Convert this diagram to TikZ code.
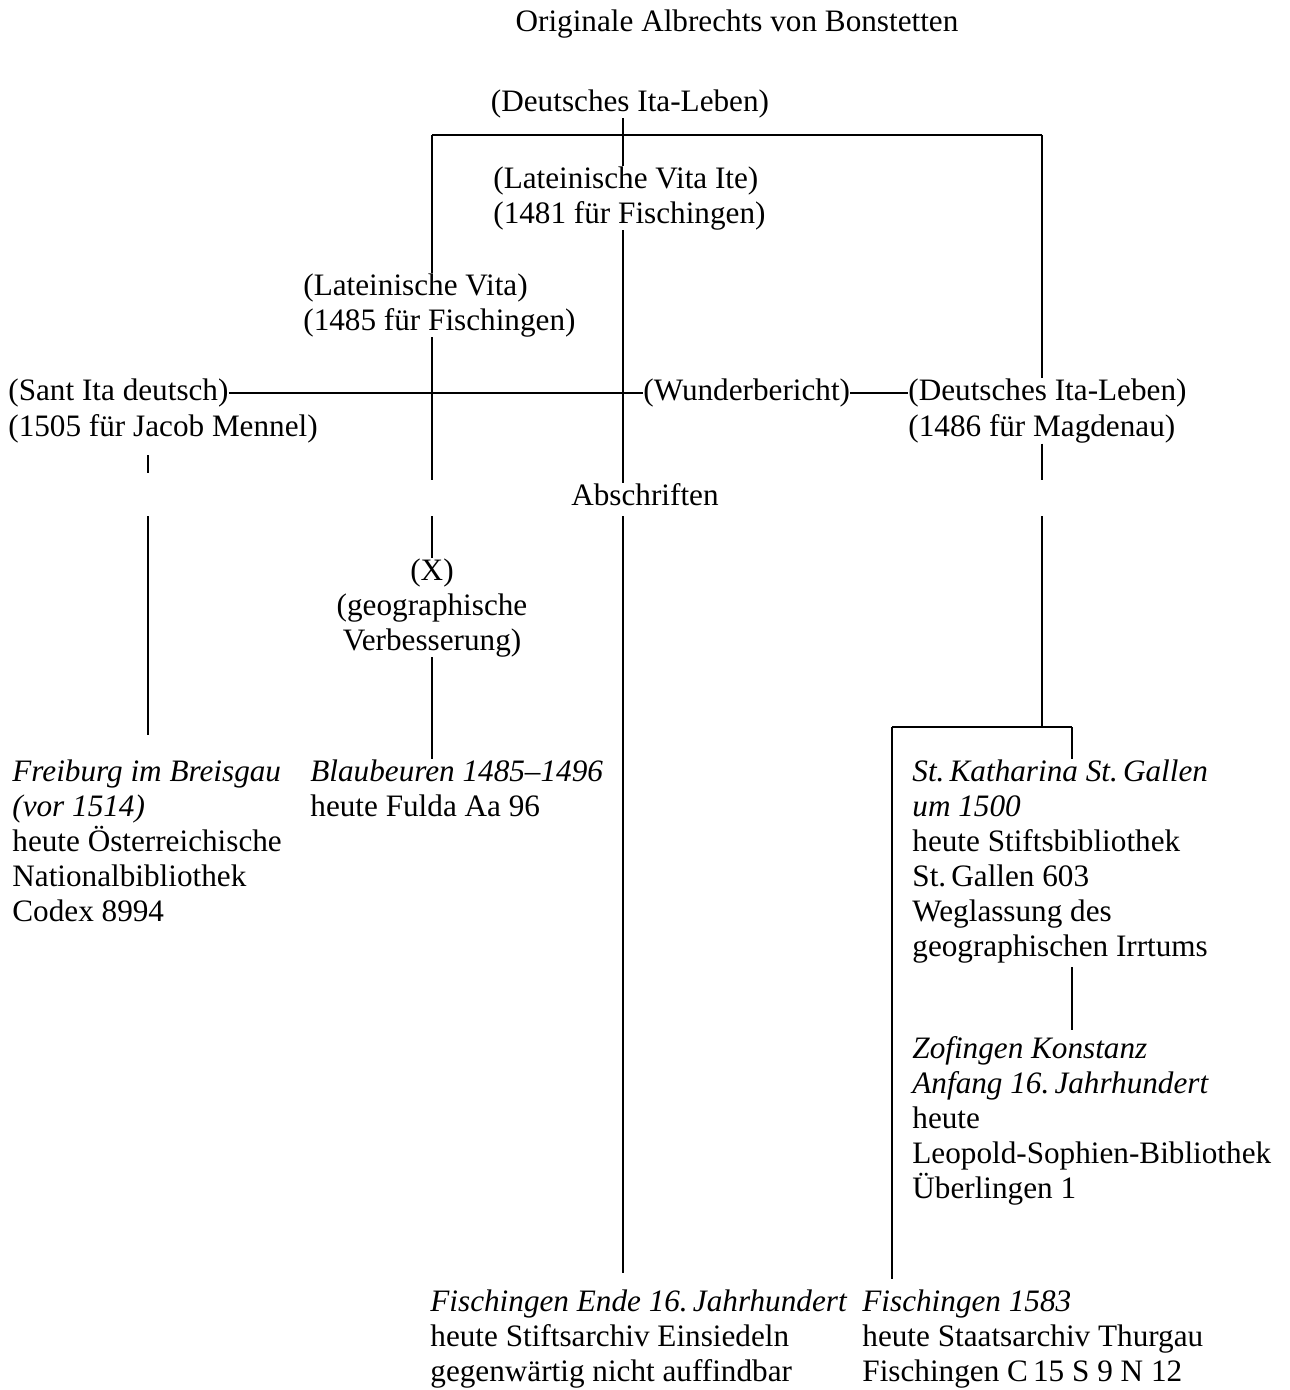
\documentclass[tikz,border=0pt]{standalone}
\usepackage{fontspec}
\setmainfont{Liberation Serif}
\usetikzlibrary{positioning}
\usetikzlibrary{calc}

\begin{document}
\begin{tikzpicture}[x=0.5pt, y=-0.5pt]
% tikz settings
\tikzstyle{txt} = [inner sep=0pt, align=left, anchor=north west, font=\fontsize{15.6}{17.5}\selectfont]
\tikzstyle{ctxt} = [inner sep=0pt, align=center, anchor=north, font=\fontsize{15.6}{17.5}\selectfont]
\tikzstyle{line} = [draw, line width=1pt]

\useasboundingbox (0,0) rectangle (1289,1390);

% the tikz picture
\node [ctxt] (title) at (737,9) {Originale Albrechts von Bonstetten};
\node [ctxt] (dtop) at (630,89) {(Deutsches Ita-Leben)};
\node [txt] (lvi) at (493,166) {(Lateinische Vita Ite)\\(1481 für Fischingen)};
\node [txt] (lv) at (303,273) {(Lateinische Vita)\\(1485 für Fischingen)};
\node [txt] (sant) at (8,378) {(Sant Ita deutsch)};
\node [txt] (santyr) at (8,414) {(1505 für Jacob Mennel)};
\node [txt] (wunder) at (643,378) {(Wunderbericht)};
\node [txt] (dml) at (908,378) {(Deutsches Ita-Leben)};
\node [txt] (dmlyr) at (908,414) {(1486 für Magdenau)};
\node [ctxt] (absch) at (645,483) {Abschriften};
\node [ctxt] (xnode) at (432,558) {(X)\\(geographische\\Verbesserung)};

\node [txt] (freiburg) at (12,759) {\textit{Freiburg im Breisgau}\\\textit{(vor 1514)}\\heute Österreichische\\Nationalbibliothek\\Codex 8994};
\node [txt] (blau) at (310,759) {\textit{Blaubeuren 1485–1496}\\heute Fulda Aa 96};
\node [txt] (kath) at (912,759) {\textit{St.\,Katharina St.\,Gallen}\\\textit{um 1500}\\heute Stiftsbibliothek\\St.\,Gallen 603\\Weglassung des\\geographischen Irrtums};
\node [txt] (zof) at (912,1036) {\textit{Zofingen Konstanz}\\\textit{Anfang 16.\,Jahrhundert}\\heute\\Leopold-Sophien-Bibliothek\\Überlingen 1};
\node [txt] (fe) at (430,1289) {\textit{Fischingen Ende 16.\,Jahrhundert}\\heute Stiftsarchiv Einsiedeln\\gegenwärtig nicht auffindbar};
\node [txt] (fb) at (862,1289) {\textit{Fischingen 1583}\\heute Staatsarchiv Thurgau\\Fischingen C\,15 S 9 N 12};

% junctions
\coordinate (barL) at (432,135);
\coordinate (barM) at (623,135);
\coordinate (barR) at (1042,135);
\coordinate (gapT) at (0,480);
\coordinate (gapB) at (0,516);
\coordinate (colA) at (148,0);
\coordinate (tickT) at (148,455);
\coordinate (tickB) at (148,473);
\coordinate (fbEnd) at (148,735);
\coordinate (forkL) at (892,727);
\coordinate (forkM) at (1042,727);
\coordinate (forkR) at (1072,727);

% connectors
\draw [line] (barL) -- (barR);
\draw [line] (dtop.south -| barM) -- (lvi.north -| barM);
\draw [line] (barL) -- (lv.north -| barL);
\draw [line] (barR) -- (dml.north -| barR);
\draw [line] (lvi.south -| barM) -- (absch.north -| barM);
\draw [line] (lv.south -| barL) -- (gapT -| barL);
\draw [line] (gapB -| barL) -- (xnode.north);
\draw [line] (xnode.south) -- (blau.north -| barL);
\draw [line] (sant.east) -- (wunder.west);
\draw [line] (wunder.east) -- (dml.west);
\draw [line] (tickT) -- (tickB);
\draw [line] (gapB -| colA) -- (fbEnd);
\draw [line] (dmlyr.south -| barR) -- (gapT -| barR);
\draw [line] (gapB -| barR) -- (forkM);
\draw [line] (forkL) -- (forkR);
\draw [line] (forkR) -- (kath.north -| forkR);
\draw [line, shorten >=5pt] (forkL) -- (fb.north -| forkL);
\draw [line, shorten <=2pt, shorten >=3pt] (kath.south -| forkR) -- (zof.north -| forkR);
\draw [line, shorten >=8pt] (gapB -| barM) -- (fe.north -| barM);
\end{tikzpicture}
\end{document}
